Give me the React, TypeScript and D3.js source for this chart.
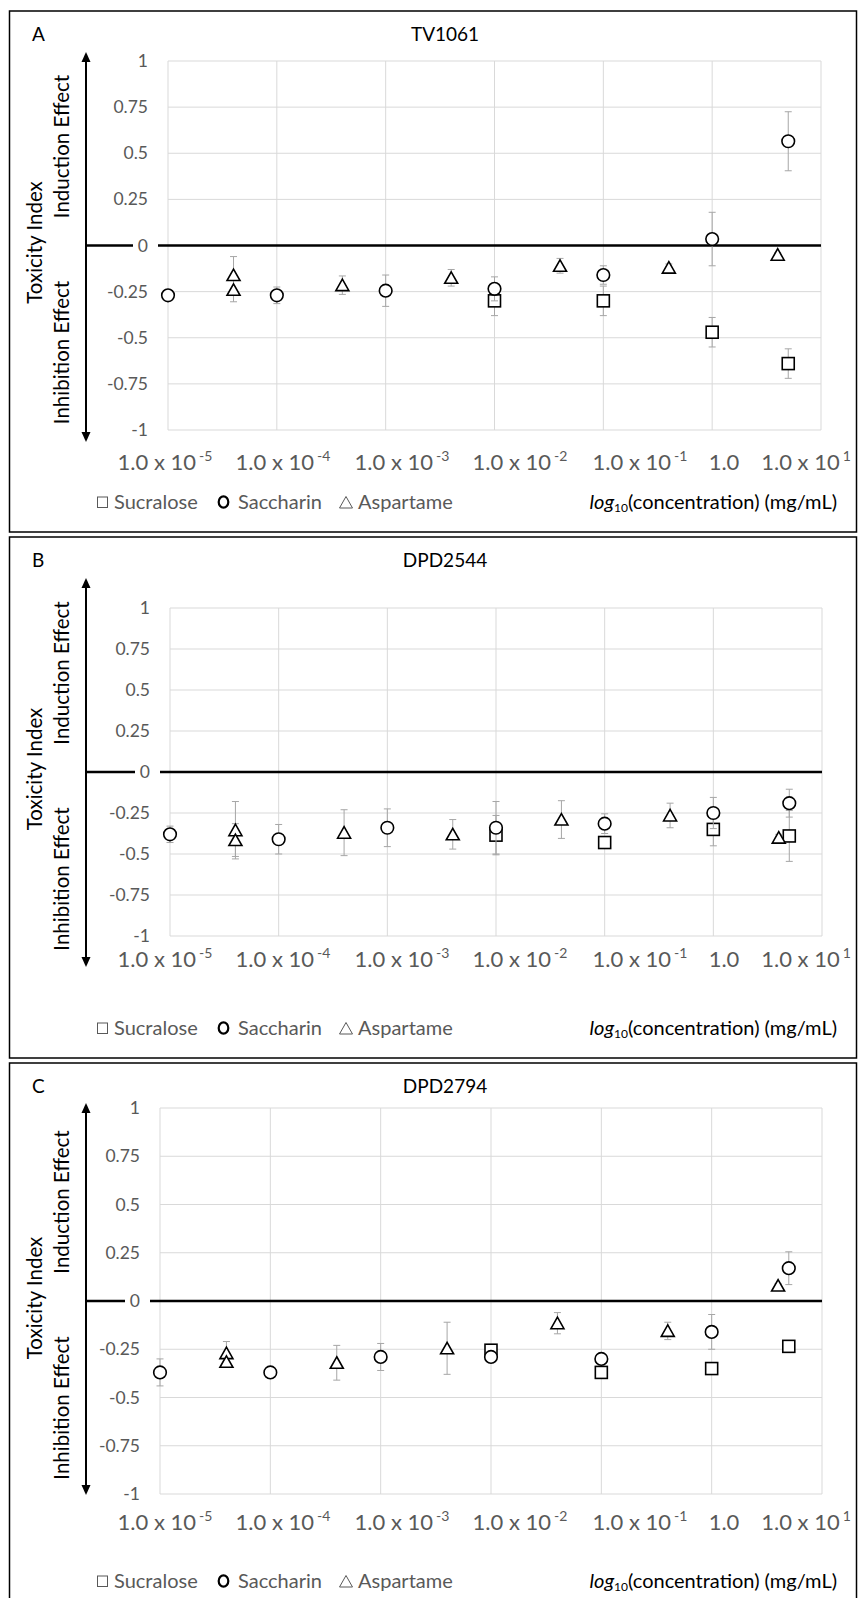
import * as d3 from "d3";
import { useEffect, useRef } from "react";

// concentrations in mg/mL
const concSucralose = [0.01, 0.1, 1, 5];
const concSaccharin = [0.00001, 0.0001, 0.001, 0.01, 0.1, 1, 5];
const concAspartame = [0.00004, 0.00004, 0.0004, 0.004, 0.04, 0.4, 4];

// A - TV1061
const tvSucralose = [-0.3, -0.3, -0.47, -0.64];
const tvSucraloseSd = [0.08, 0.08, 0.08, 0.08];
const tvSaccharin = [-0.27, -0.27, -0.245, -0.235, -0.16, 0.035, 0.565];
const tvSaccharinSd = [0.03, 0.045, 0.085, 0.065, 0.05, 0.145, 0.16];
const tvAspartame = [-0.16, -0.24, -0.215, -0.175, -0.11, -0.12, -0.05];
const tvAspartameSd = [0.1, 0.065, 0.05, 0.045, 0.04, 0.02, 0.01];

// B - DPD2544
const d44Sucralose = [-0.385, -0.43, -0.35, -0.39];
const d44SucraloseSd = [0.12, 0.02, 0.1, 0.155];
const d44Saccharin = [-0.38, -0.41, -0.34, -0.34, -0.315, -0.25, -0.19];
const d44SaccharinSd = [0.05, 0.09, 0.115, 0.16, 0.06, 0.095, 0.085];
const d44Aspartame = [-0.355, -0.415, -0.37, -0.38, -0.29, -0.265, -0.4];
const d44AspartameSd = [0.175, 0.1, 0.14, 0.09, 0.115, 0.075, 0.02];

// C - DPD2794
const d94Sucralose = [-0.255, -0.37, -0.35, -0.235];
const d94SucraloseSd = [0.03, 0.02, 0.02, 0.02];
const d94Saccharin = [-0.37, -0.37, -0.29, -0.29, -0.3, -0.16, 0.17];
const d94SaccharinSd = [0.07, 0.015, 0.07, 0.02, 0.02, 0.09, 0.085];
const d94Aspartame = [-0.27, -0.315, -0.32, -0.245, -0.115, -0.155, 0.08];
const d94AspartameSd = [0.06, 0.02, 0.09, 0.135, 0.055, 0.045, 0.01];

const yTicks = [-1, -0.75, -0.5, -0.25, 0, 0.25, 0.5, 0.75, 1];
const xGrid = [1e-5, 1e-4, 1e-3, 1e-2, 1e-1, 1, 10];
const xLabelBase = ["1.0 x 10", "1.0 x 10", "1.0 x 10", "1.0 x 10", "1.0 x 10", "1.0", "1.0 x 10"];
const xLabelExp = ["-5", "-4", "-3", "-2", "-1", "", "1"];
const seriesNames = ["Sucralose", "Saccharin", "Aspartame"];
const seriesConc = [concSucralose, concSaccharin, concAspartame];

// layout only
const labelCenters = [165, 283, 402, 520, 640, 724, 806];
const panels = [
	{ letter: "A", title: "TV1061", top: 11, bottom: 532, headY: 41, l: 168, r: 821, t: 61, b: 430, arrowTop: 52, arrowBottom: 442, labelY: 470, legendY: 509,
		vals: [tvSucralose, tvSaccharin, tvAspartame], sds: [tvSucraloseSd, tvSaccharinSd, tvAspartameSd] },
	{ letter: "B", title: "DPD2544", top: 537, bottom: 1058, headY: 567, l: 170, r: 822, t: 608, b: 936, arrowTop: 578, arrowBottom: 967, labelY: 967, legendY: 1035,
		vals: [d44Sucralose, d44Saccharin, d44Aspartame], sds: [d44SucraloseSd, d44SaccharinSd, d44AspartameSd] },
	{ letter: "C", title: "DPD2794", top: 1063, bottom: 1610, headY: 1093, l: 160, r: 822, t: 1108, b: 1494, arrowTop: 1103, arrowBottom: 1495, labelY: 1530, legendY: 1588,
		vals: [d94Sucralose, d94Saccharin, d94Aspartame], sds: [d94SucraloseSd, d94SaccharinSd, d94AspartameSd] },
];

const FONT = "Lato, 'Open Sans', sans-serif";
const GRAY = "#595959";

const App = () => {
	const ref = useRef(null);

	useEffect(() => {
		document.body.style.margin = "0";
		const svg = d3.select(ref.current);
		svg.selectAll("*").remove();
		svg.append("rect").attr("width", 858).attr("height", 1598).attr("fill", "#fff");

		panels.forEach(p => {
			const g = svg.append("g").style("font-family", FONT);
			const x = d3.scaleLog().domain([1e-5, 10]).range([p.l, p.r]);
			const y = d3.scaleLinear().domain([-1, 1]).range([p.b, p.t]);

			g.append("rect")
				.attr("x", 9.5).attr("y", p.top)
				.attr("width", 847).attr("height", p.bottom - p.top)
				.attr("fill", "none").attr("stroke", "#000").attr("stroke-width", 1.5);

			// grid
			g.selectAll(".vg").data(xGrid).enter().append("line")
				.attr("x1", d => x(d)).attr("x2", d => x(d))
				.attr("y1", p.t).attr("y2", p.b)
				.attr("stroke", "#d9d9d9").attr("stroke-width", 1);
			g.selectAll(".hg").data(yTicks).enter().append("line")
				.attr("x1", p.l).attr("x2", p.r)
				.attr("y1", d => y(d)).attr("y2", d => y(d))
				.attr("stroke", "#d9d9d9").attr("stroke-width", 1);

			// zero line from the arrow
			g.append("line")
				.attr("x1", 86).attr("x2", p.r)
				.attr("y1", y(0)).attr("y2", y(0))
				.attr("stroke", "#000").attr("stroke-width", 2.5);
			g.append("rect")
				.attr("x", p.l - 35).attr("y", y(0) - 10)
				.attr("width", 25).attr("height", 20).attr("fill", "#fff");

			// y tick labels
			g.selectAll(".yt").data(yTicks).enter().append("text")
				.attr("x", p.l - 20).attr("y", d => y(d) + 6)
				.attr("text-anchor", "end")
				.attr("font-size", 17.5).attr("fill", GRAY)
				.text(d => String(d));

			// arrow
			g.append("line")
				.attr("x1", 86).attr("x2", 86)
				.attr("y1", p.arrowTop + 6).attr("y2", p.arrowBottom - 6)
				.attr("stroke", "#000").attr("stroke-width", 2);
			g.append("path")
				.attr("d", `M86,${p.arrowTop} L90.5,${p.arrowTop + 10} L81.5,${p.arrowTop + 10} Z`)
				.attr("fill", "#000");
			g.append("path")
				.attr("d", `M86,${p.arrowBottom} L90.5,${p.arrowBottom - 10} L81.5,${p.arrowBottom - 10} Z`)
				.attr("fill", "#000");

			// y labels
			const zy = y(0);
			const yLabels = [
				{ t: "Toxicity Index", cx: 42, cy: zy - 3 },
				{ t: "Induction Effect", cx: 69, cy: zy - 99 },
				{ t: "Inhibition Effect", cx: 69, cy: zy + 107 },
			];
			g.selectAll(".yl").data(yLabels).enter().append("text")
				.attr("transform", d => `translate(${d.cx},${d.cy}) rotate(-90)`)
				.attr("text-anchor", "middle")
				.attr("font-size", 20.5).attr("fill", "#000")
				.text(d => d.t);

			// letter + title
			g.append("text").attr("x", 32).attr("y", p.headY)
				.attr("font-size", 19).attr("fill", "#000").text(p.letter);
			g.append("text").attr("x", 445).attr("y", p.headY)
				.attr("text-anchor", "middle")
				.attr("font-size", 19).attr("fill", "#000").text(p.title);

			// x labels
			xLabelBase.forEach((base, i) => {
				const t = g.append("text")
					.attr("x", labelCenters[i]).attr("y", p.labelY)
					.attr("text-anchor", "middle")
					.attr("font-size", 22).attr("fill", GRAY);
				t.append("tspan").text(base);
				if (xLabelExp[i]) {
					t.append("tspan").attr("dx", 3).attr("dy", -9)
						.attr("font-size", 14).text(xLabelExp[i]);
				}
			});

			// series
			p.vals.forEach((vals, si) => {
				const pts = vals.map((v, i) => ({ c: seriesConc[si][i], v, sd: p.sds[si][i] }));
				const eb = g.append("g").attr("stroke", "#a6a6a6").attr("stroke-width", 1);
				pts.forEach(d => {
					const cx = x(d.c);
					const y1 = y(d.v + d.sd), y2 = y(d.v - d.sd);
					eb.append("line").attr("x1", cx).attr("x2", cx).attr("y1", y1).attr("y2", y2);
					eb.append("line").attr("x1", cx - 3.5).attr("x2", cx + 3.5).attr("y1", y1).attr("y2", y1);
					eb.append("line").attr("x1", cx - 3.5).attr("x2", cx + 3.5).attr("y1", y2).attr("y2", y2);
				});
				const mk = g.append("g").attr("fill", "#fff").attr("stroke", "#000").attr("stroke-width", 1.6);
				pts.forEach(d => {
					const cx = x(d.c), cy = y(d.v);
					if (si === 0) {
						mk.append("rect").attr("x", cx - 6).attr("y", cy - 6).attr("width", 12).attr("height", 12);
					} else if (si === 1) {
						mk.append("circle").attr("cx", cx).attr("cy", cy).attr("r", 6.3);
					} else {
						mk.append("path").attr("d", `M${cx},${cy - 6} L${cx + 6.5},${cy + 5.5} L${cx - 6.5},${cy + 5.5} Z`);
					}
				});
			});

			// legend
			const ly = p.legendY;
			g.append("rect").attr("x", 97.5).attr("y", ly - 12).attr("width", 10).attr("height", 10.5)
				.attr("fill", "none").attr("stroke", GRAY).attr("stroke-width", 1);
			g.append("ellipse").attr("cx", 223.5).attr("cy", ly - 7).attr("rx", 4.8).attr("ry", 5.6)
				.attr("fill", "none").attr("stroke", "#000").attr("stroke-width", 2.2);
			g.append("path").attr("d", `M346,${ly - 12.5} L352.5,${ly - 1} L339.5,${ly - 1} Z`)
				.attr("fill", "none").attr("stroke", GRAY).attr("stroke-width", 1);
			const legendX = [114, 238, 358];
			seriesNames.forEach((n, i) => {
				g.append("text").attr("x", legendX[i]).attr("y", ly)
					.attr("font-size", 20).attr("fill", GRAY).text(n);
			});

			const xt = g.append("text").attr("x", 837).attr("y", ly)
				.attr("text-anchor", "end").attr("font-size", 20).attr("fill", "#000");
			xt.append("tspan").attr("font-style", "italic").text("log");
			xt.append("tspan").attr("font-size", 12).attr("dy", 3).text("10");
			xt.append("tspan").attr("dy", -3).text("(concentration) (mg/mL)");
		});
	}, []);

	return <svg ref={ref} width={858} height={1598} style={{ display: "block" }}></svg>;
};

export default App;
